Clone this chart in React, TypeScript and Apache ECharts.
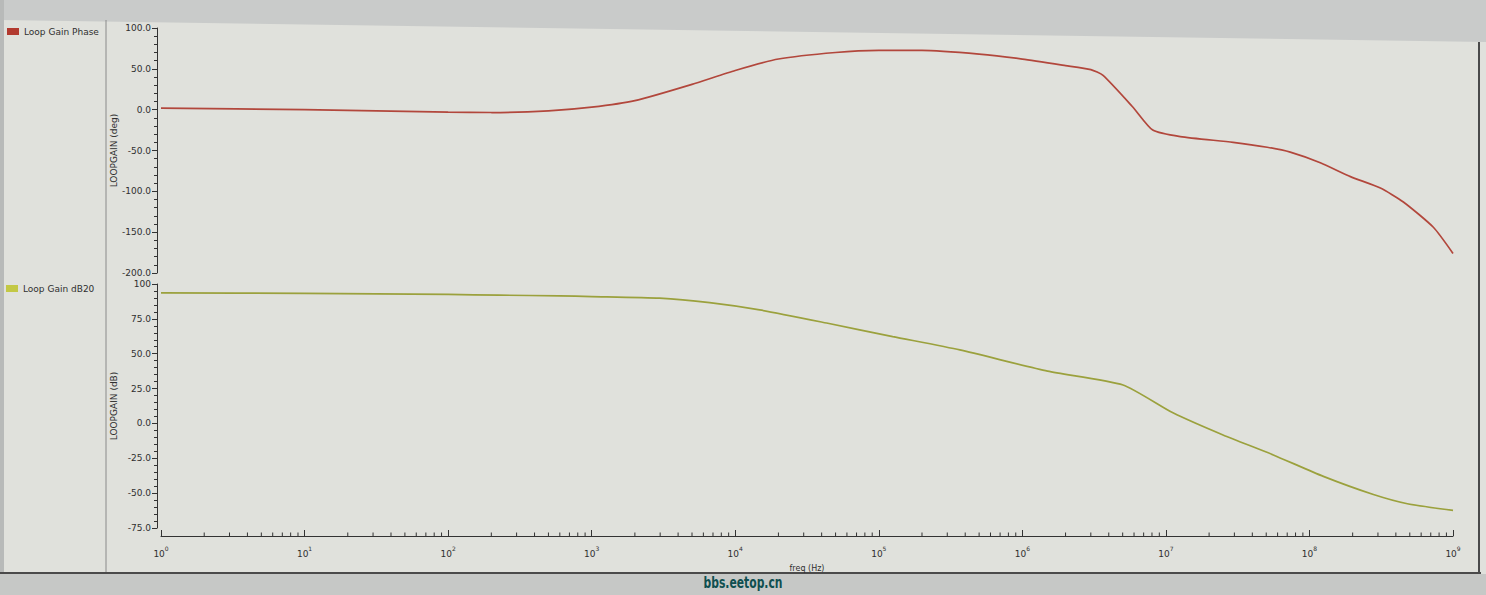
import React, { useEffect, useRef } from "react";
import * as echarts from "echarts";

// Loop gain phase (deg) vs frequency (Hz)
const phaseFreq = [1, 10, 100, 200, 500, 1e3, 2e3, 5e3, 1e4, 2e4, 5e4, 1e5, 2e5, 5e5, 1e6, 2e6, 3e6, 3.65e6, 5.9e6, 8.1e6, 1.26e7, 2.94e7, 5.08e7, 7.35e7, 1.19e8, 1.93e8, 3.12e8, 4.51e8, 7.3e8, 1e9];
const phaseDeg = [2, 0, -3, -3.5, -1.5, 3, 11, 31, 48, 62, 70, 72.5, 72.5, 68, 62, 54, 49, 42, 3, -25, -33, -40, -46, -52, -65, -82, -96, -113, -144, -176];

// Loop gain magnitude (dB) vs frequency (Hz)
const gainFreq = [1, 10, 100, 228, 597, 1e3, 2.97e3, 6.63e3, 1.48e4, 4.33e4, 1.25e5, 3.67e5, 1.5e6, 5.03e6, 1.12e7, 2.5e7, 5.6e7, 1.25e8, 2.79e8, 4.81e8, 1e9];
const gainDb = [93.6, 93.3, 92.5, 92, 91.5, 91, 89.8, 86.6, 81.4, 72, 62.3, 52.7, 37.5, 27.6, 7.6, -8.3, -22.6, -38, -51, -57.6, -62.4];

// x-axis minor tick multipliers per decade, decades covered
const minorMultipliers = [2, 3, 4, 5, 6, 7, 8, 9];
const decades = [1, 10, 100, 1e3, 1e4, 1e5, 1e6, 1e7, 1e8];

const seriesNames = ["Loop Gain Phase", "Loop Gain dB20"];
const axisNames = ["LOOPGAIN (deg)", "LOOPGAIN (dB)", "freq (Hz)"];

export default function App() {
  const ref = useRef<HTMLDivElement>(null);
  useEffect(() => {
    const chart = echarts.init(ref.current!, null, { renderer: "svg" });
    const font = "DejaVu Sans";
    const txt = "#2f2f2f";
    const minorTicks: number[][] = [];
    decades.forEach((d) => minorMultipliers.forEach((m) => minorTicks.push([m * d, -75])));

    const yCommon = {
      axisLine: { show: true, onZero: false, lineStyle: { color: "#333", width: 1 } },
      axisTick: { show: true, length: 5, lineStyle: { color: "#333" } },
      minorTick: { show: true, splitNumber: 5, length: 3, lineStyle: { color: "#333" } },
      splitLine: { show: false },
      minorSplitLine: { show: false },
      nameLocation: "middle",
      nameRotate: 90,
      nameGap: 39,
      nameMoveOverlap: false,
      nameTextStyle: { fontSize: 9, fontFamily: font, color: txt },
      offset: 4,
    };

    chart.setOption({
      animation: false,
      backgroundColor: "#e0e1dc",
      grid: [
        { left: 161, top: 28, width: 1292, height: 245 },
        { left: 161, top: 284, width: 1292, height: 244 },
      ],
      xAxis: [
        { type: "log", gridIndex: 0, min: 1, max: 1e9, logBase: 10, show: false },
        {
          type: "log",
          gridIndex: 1,
          min: 1,
          max: 1e9,
          logBase: 10,
          interval: 1,
          splitNumber: 9,
          offset: 8,
          position: "bottom",
          axisLine: { show: true, onZero: false, lineStyle: { color: "#333", width: 1 } },
          axisTick: { show: true, inside: true, length: 6, lineStyle: { color: "#333" } },
          minorTick: { show: false },
          splitLine: { show: false },
          axisLabel: {
            margin: 9,
            showMinLabel: true,
            showMaxLabel: true,
            formatter: (v: number) => `{b|10}{s|${Math.round(Math.log10(v))}}`,
            rich: {
              b: { fontSize: 9, fontFamily: font, color: txt, lineHeight: 13, verticalAlign: "bottom" },
              s: { fontSize: 6, fontFamily: font, color: txt, lineHeight: 6, verticalAlign: "top" },
            },
          },
          name: axisNames[2],
          nameLocation: "middle",
          nameGap: 28,
          nameMoveOverlap: false,
          nameTextStyle: { fontSize: 8, fontFamily: font, color: txt },
        },
      ],
      yAxis: [
        {
          ...yCommon,
          type: "value",
          gridIndex: 0,
          min: -200,
          max: 100,
          interval: 50,
          name: axisNames[0],
          axisLabel: {
            margin: 6,
            fontSize: 9,
            fontFamily: font,
            color: txt,
            showMinLabel: true,
            showMaxLabel: true,
            formatter: (v: number) => v.toFixed(1),
          },
        },
        {
          ...yCommon,
          type: "value",
          gridIndex: 1,
          min: -75,
          max: 100,
          interval: 25,
          name: axisNames[1],
          axisLabel: {
            margin: 6,
            fontSize: 9,
            fontFamily: font,
            color: txt,
            showMinLabel: true,
            showMaxLabel: true,
            formatter: (v: number) => (v === 100 ? "100" : v.toFixed(1)),
          },
        },
      ],
      series: [
        {
          name: seriesNames[0],
          type: "line",
          xAxisIndex: 0,
          yAxisIndex: 0,
          data: phaseFreq.map((f, i) => [f, phaseDeg[i]]),
          showSymbol: false,
          smooth: 0.2,
          lineStyle: { color: "#b2473c", width: 1.7 },
          itemStyle: { color: "#b2473c" },
        },
        {
          name: seriesNames[1],
          type: "line",
          xAxisIndex: 1,
          yAxisIndex: 1,
          data: gainFreq.map((f, i) => [f, gainDb[i]]),
          showSymbol: false,
          smooth: 0.2,
          lineStyle: { color: "#9ba13d", width: 1.7 },
          itemStyle: { color: "#9ba13d" },
        },
        {
          type: "custom",
          xAxisIndex: 1,
          yAxisIndex: 1,
          silent: true,
          clip: false,
          data: minorTicks,
          renderItem: (_p: any, api: any) => {
            const p = api.coord([api.value(0), api.value(1)]);
            return {
              type: "line",
              shape: { x1: p[0], y1: p[1] + 8, x2: p[0], y2: p[1] + 4.5 },
              style: { stroke: "#333", lineWidth: 1 },
            };
          },
        },
      ],
      graphic: [
        { type: "polygon", z: -10, shape: { points: [[0, 0], [1486, 0], [1486, 42], [0, 20]] }, style: { fill: "#c9cbca" } },
        { type: "rect", z: -10, shape: { x: 0, y: 0, width: 4, height: 595 }, style: { fill: "#b8bab9" } },
        { type: "rect", z: -10, shape: { x: 0, y: 574, width: 1486, height: 21 }, style: { fill: "#c6c8c6" } },
        { type: "line", shape: { x1: 0, y1: 573, x2: 1481, y2: 573 }, style: { stroke: "#4a4a4a", lineWidth: 2 } },
        { type: "line", shape: { x1: 106, y1: 20, x2: 106, y2: 572 }, style: { stroke: "#8a8a8a", lineWidth: 1 } },
        { type: "line", shape: { x1: 1479, y1: 42, x2: 1479, y2: 573 }, style: { stroke: "#4a4a4a", lineWidth: 2 } },
        { type: "rect", shape: { x: 7, y: 28, width: 12, height: 7 }, style: { fill: "#b23a2f" } },
        { type: "text", x: 24, y: 32, style: { text: seriesNames[0], fill: txt, fontSize: 9, fontFamily: font, verticalAlign: "middle", align: "left" } },
        { type: "rect", shape: { x: 6, y: 285, width: 12, height: 7 }, style: { fill: "#c3c845" } },
        { type: "text", x: 23, y: 289, style: { text: seriesNames[1], fill: txt, fontSize: 9, fontFamily: font, verticalAlign: "middle", align: "left" } },
        {
          type: "text",
          x: 743,
          y: 582,
          scaleY: 1.35,
          style: { text: "bbs.eetop.cn", fill: "#0f4f50", fontSize: 12, fontWeight: "bold", fontFamily: "DejaVu Sans Condensed", verticalAlign: "middle", align: "center" },
        },
      ],
    });
    return () => chart.dispose();
  }, []);
  return <div ref={ref} style={{ position: "absolute", left: 0, top: 0, width: 1486, height: 595 }} />;
}
